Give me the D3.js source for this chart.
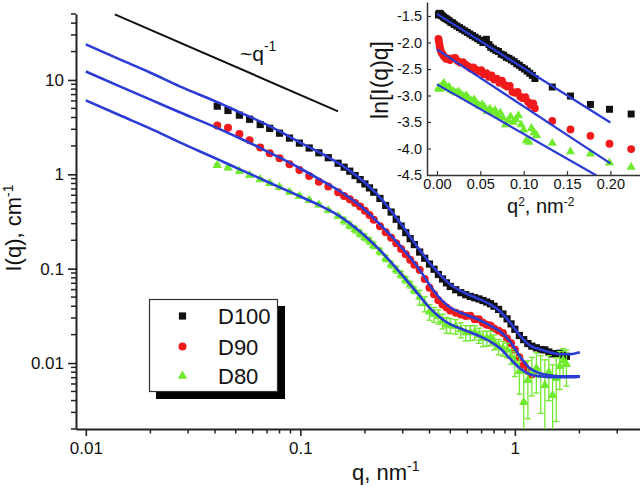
<!DOCTYPE html>
<html><head><meta charset="utf-8">
<script src="https://cdn.jsdelivr.net/npm/d3@7"></script>
<style>
body{margin:0;background:#fff;}
svg{display:block;font-family:"Liberation Sans",Arial,Helvetica,sans-serif;}
</style></head><body>
<svg id="c" width="640" height="490"></svg>
<script>
// ---------- main plot data ----------
const seriesNames = ["D100", "D90", "D80"];
const qMain = [0.041,0.046,0.052,0.058,0.065,0.072,0.080,0.089,0.099,0.110,0.122,0.135,0.150,
  0.16,0.17,0.18,0.19,0.20,0.21,0.22,0.235,0.25,0.265,0.28,0.295,0.31,0.325,0.34,
  0.36,0.38,0.40,0.42,0.44,0.46,0.48,0.50,0.53,0.56,0.59,0.62,0.65,0.68,0.71,0.74,0.77,0.80,
  0.84,0.88,0.92,0.96,1.00,1.05,1.10,1.15,1.20,1.26,1.32,1.38,1.44,1.50,1.56,1.62,1.68,1.74];
const iD100 = [5.28,4.75,4.24,3.83,3.37,3.07,2.73,2.42,2.14,1.90,1.69,1.50,1.31,
  1.19,1.08,0.971,0.879,0.791,0.718,0.646,0.555,0.468,0.398,0.334,0.283,0.241,0.208,0.180,
  0.150,0.129,0.112,0.0986,0.0868,0.0778,0.0707,0.0648,0.0598,0.0557,0.0530,0.0508,0.0492,0.0478,0.0460,0.0443,0.0425,0.0400,
  0.0370,0.0331,0.0294,0.0260,0.0228,0.0196,0.0177,0.0161,0.0151,0.0145,0.0139,0.0138,0.0131,0.0125,0.0126,0.0127,0.0121,0.0118];
const iD90 = [3.30,3.11,2.67,2.30,1.92,1.67,1.48,1.28,1.108,0.962,0.835,0.741,0.645,
  0.590,0.545,0.497,0.455,0.410,0.371,0.331,0.281,0.244,0.213,0.186,0.162,0.142,0.1245,0.110,
  0.0969,0.0776,0.0628,0.0537,0.0464,0.0418,0.0387,0.0361,0.0342,0.0326,0.0315,0.0318,0.0291,0.0292,0.0267,0.0254,0.0250,0.0233,
  0.0220,0.0208,0.0182,0.0162,0.0138,0.0115,0.0096,0.00823,0.00757,
  null,null,null,null,null,null,null,null,null];
const iD80 = [1.248,1.169,1.079,0.978,0.881,0.803,0.730,0.648,0.588,0.533,0.475,0.415,0.359,
  0.323,0.289,0.260,0.236,0.215,0.197,0.177,0.1525,0.1285,0.1105,0.0976,0.0864,0.0763,0.0677,0.0592,
  0.0501,0.0426,0.0350,0.0330,0.0312,0.0280,0.0255,0.0250,0.0245,0.0226,0.0210,0.0211,0.0212,0.0198,0.0183,0.0184,0.0185,0.0168,
  0.0150,0.0144,0.0138,0.0118,0.0102,0.00818,0.00384,0.00657,0.00799,0.00881,0.00743,0.00582,0.0080,0.00456,0.0069,0.00925,0.0107,0.00971];
const errD80 = [0.05,0.047,0.043,0.039,0.035,0.032,0.029,0.026,0.024,0.021,0.019,0.017,0.014,
  0.026,0.023,0.021,0.019,0.017,0.016,0.014,0.012,0.010,0.009,0.008,0.007,0.006,0.0054,0.0047,
  0.009,0.0077,0.0066,0.0059,0.0054,0.005,0.0048,0.0045,0.0043,0.0041,0.0039,0.0038,0.0037,0.0036,0.0034,0.0033,0.0032,0.003,
  0.0028,0.0026,0.0024,0.0021,0.003,0.0035,0.0040,0.0040,0.0035,0.004,0.0045,0.005,0.004,0.005,0.0045,0.004,0.0035,0.004];

// fitted curves (blue)
const qFit = [0.0100,0.0144,0.0199,0.0274,0.0413,0.0522,0.0648,0.0802,0.0995,0.123,0.153,0.189,0.235,0.291,0.361,
  0.402,0.447,0.498,0.554,0.617,0.687,0.765,0.851,0.948,1.055,1.175,1.308,1.456,1.621,1.805,2.01];
const fitD100 = [23.8,16.5,12.0,8.56,5.79,4.54,3.64,2.85,2.18,1.71,1.28,0.907,0.571,0.310,0.157,
  0.114,0.0872,0.0684,0.0590,0.0523,0.0474,0.0420,0.0354,0.0271,0.0197,0.0154,0.0140,0.0130,0.0124,0.0124,0.0130];
const fitD90 = [12.3,8.56,6.23,4.54,3.07,2.41,1.91,1.50,1.16,0.885,0.661,0.469,0.295,0.177,0.0962,
  0.0667,0.0486,0.0390,0.0345,0.0313,0.0284,0.0251,0.0217,0.0170,0.0118,0.00881,0.00780,0.00743,0.00725,0.00725,0.00725];
const fitD80 = [6.08,4.22,3.07,2.18,1.44,1.13,0.907,0.728,0.585,0.469,0.359,0.249,0.157,0.0916,0.0510,
  0.0381,0.0306,0.0258,0.0234,0.0212,0.0192,0.0170,0.0144,0.0112,0.00881,0.00761,0.00725,0.00707,0.00707,0.00707,0.00716];

// reference slope line ~q^-1
const refQ = [0.01365, 0.150];
const refI = [49.5, 4.65];

const xTicksMain = [0.01, 0.1, 1];
const xTickLabels = ["0.01", "0.1", "1"];
const yTicksMain = [0.01, 0.1, 1, 10];
const yTickLabels = ["0.01", "0.1", "1", "10"];

// ---------- inset data: [q^2, ln(I q)] ----------
const insD100 = [[0.0017,-1.48],[0.0025,-1.45],[0.0033,-1.47],[0.0042,-1.46],[0.0052,-1.49],[0.0062,-1.50],[0.0075,-1.52],
  [0.009,-1.54],[0.0105,-1.55],[0.012,-1.57],[0.014,-1.59],[0.016,-1.62],[0.018,-1.63],[0.020,-1.66],[0.023,-1.69],
  [0.026,-1.72],[0.029,-1.75],[0.032,-1.78],[0.035,-1.81],[0.038,-1.84],[0.041,-1.87],[0.044,-1.90],[0.047,-1.93],
  [0.050,-1.96],[0.053,-2.00],[0.057,-1.94],[0.060,-2.04],[0.062,-2.09],[0.065,-2.12],[0.068,-2.15],[0.071,-2.17],
  [0.074,-2.22],[0.077,-2.24],[0.080,-2.28],[0.083,-2.30],[0.086,-2.33],[0.089,-2.36],[0.092,-2.40],[0.095,-2.43],
  [0.098,-2.47],[0.101,-2.50],[0.104,-2.54],[0.107,-2.58],[0.110,-2.62],[0.113,-2.68],
  [0.133,-2.84],[0.154,-3.01],[0.177,-3.17],[0.199,-3.26],[0.224,-3.35]];
const insD90 = [[0.0017,-1.93],[0.0022,-1.97],[0.0027,-2.02],[0.0033,-2.08],[0.004,-2.13],[0.005,-2.18],[0.006,-2.21],
  [0.0075,-2.25],[0.009,-2.28],[0.011,-2.31],[0.013,-2.30],[0.015,-2.33],[0.018,-2.30],[0.021,-2.29],[0.024,-2.35],
  [0.027,-2.38],[0.030,-2.37],[0.033,-2.42],[0.036,-2.45],[0.039,-2.49],[0.042,-2.47],[0.045,-2.51],[0.048,-2.55],
  [0.051,-2.52],[0.054,-2.60],[0.057,-2.58],[0.060,-2.65],[0.063,-2.62],[0.066,-2.70],[0.069,-2.68],[0.072,-2.76],
  [0.075,-2.72],[0.078,-2.80],[0.081,-2.83],[0.084,-2.82],[0.087,-2.93],[0.090,-2.95],[0.093,-2.93],[0.096,-3.02],
  [0.099,-3.05],[0.102,-3.03],[0.105,-3.12],[0.108,-3.18],[0.111,-3.15],[0.113,-3.24],
  [0.133,-3.48],[0.154,-3.64],[0.177,-3.76],[0.199,-3.91],[0.224,-4.01]];
const insD80 = [[0.0017,-2.87],[0.0025,-2.85],[0.0035,-2.88],[0.005,-2.83],[0.0065,-2.80],[0.008,-2.77],[0.010,-2.82],
  [0.012,-2.86],[0.014,-2.84],[0.016,-2.90],[0.019,-2.92],[0.022,-2.95],[0.025,-2.93],[0.028,-2.98],[0.031,-3.02],
  [0.034,-3.00],[0.037,-3.07],[0.040,-3.10],[0.043,-3.08],[0.046,-3.15],[0.049,-3.20],[0.052,-3.17],[0.055,-3.22],
  [0.058,-3.30],[0.061,-3.25],[0.064,-3.32],[0.067,-3.28],[0.070,-3.38],[0.073,-3.33],[0.076,-3.42],[0.079,-3.55],
  [0.082,-3.47],[0.085,-3.40],[0.088,-3.50],[0.091,-3.45],[0.094,-3.38],[0.097,-3.55],[0.100,-3.65],[0.103,-3.85],
  [0.106,-3.88],[0.109,-3.62],[0.112,-3.70],[0.115,-3.75],
  [0.133,-3.90],[0.154,-4.06],[0.177,-4.10],[0.199,-4.27],[0.224,-4.35]];
const insFitD100 = [[0.0, -1.46], [0.20, -3.51]];
const insFitD90 = [[0.0, -2.13], [0.20, -4.28]];
const insFitD80 = [[0.0, -2.79], [0.184, -4.51]];
const insXTicks = [0.00, 0.05, 0.10, 0.15, 0.20];
const insXLabels = ["0.00", "0.05", "0.10", "0.15", "0.20"];
const insYTicks = [-1.5, -2.0, -2.5, -3.0, -3.5, -4.0, -4.5];
const insYLabels = ["-1.5", "-2.0", "-2.5", "-3.0", "-3.5", "-4.0", "-4.5"];

// ---------- styles ----------
const colors = {D100: "#111111", D90: "#f01a1a", D80: "#6fea2c"};
const blue = "#2a3cd4";

const svg = d3.select("#c");
const x = d3.scaleLog().domain([0.009, 4]).range([76, 644]);
const y = d3.scaleLog().domain([0.002, 50]).range([429, 14]);

const defs = svg.append("defs");
defs.append("clipPath").attr("id", "mclip").append("rect")
  .attr("x", 76).attr("y", 0).attr("width", 564).attr("height", 429);
defs.append("clipPath").attr("id", "iclip").append("rect")
  .attr("x", 427).attr("y", 0).attr("width", 213).attr("height", 175);

// ---------- main axes ----------
const gx = svg.append("g").attr("transform", "translate(0,429)")
  .call(d3.axisBottom(x).tickValues(xTicksMain).tickFormat((d, i) => xTickLabels[i])
    .tickSize(7).tickSizeOuter(0).tickPadding(6));
const gy = svg.append("g").attr("transform", "translate(76,0)")
  .call(d3.axisLeft(y).tickValues(yTicksMain).tickFormat((d, i) => yTickLabels[i])
    .tickSize(8).tickSizeOuter(0).tickPadding(4));
[gx, gy].forEach(g => {
  g.select(".domain").attr("stroke", "#222").attr("stroke-width", 2);
  g.selectAll(".tick line").attr("stroke", "#222").attr("stroke-width", 1.6);
  g.selectAll("text").attr("font-size", 17).attr("fill", "#111")
    .attr("font-family", "Liberation Sans, Arial, sans-serif");
});
const xMinor = x.ticks().filter(v => !xTicksMain.some(t => Math.abs(t - v) < 1e-9) && v >= 0.0095);
svg.append("g").selectAll("line").data(xMinor).join("line")
  .attr("x1", d => x(d)).attr("x2", d => x(d)).attr("y1", 429).attr("y2", 433.5)
  .attr("stroke", "#222").attr("stroke-width", 1.5);
const yMinor = y.ticks().filter(v => !yTicksMain.some(t => Math.abs(t - v) < 1e-12));
svg.append("g").selectAll("line").data(yMinor).join("line")
  .attr("y1", d => y(d)).attr("y2", d => y(d)).attr("x1", 76).attr("x2", 71)
  .attr("stroke", "#222").attr("stroke-width", 1.5);

// axis titles
const xt = svg.append("text").attr("x", 352).attr("y", 480).attr("font-size", 22).attr("fill", "#111");
xt.append("tspan").text("q, nm");
xt.append("tspan").text("-1").attr("font-size", 14).attr("dy", -9);
const yt = svg.append("text").attr("transform", "translate(21,228) rotate(-90)")
  .attr("text-anchor", "middle").attr("font-size", 22).attr("fill", "#111");
yt.append("tspan").text("I(q), cm");
yt.append("tspan").text("-1").attr("font-size", 14).attr("dy", -8);

// ---------- main data ----------
const plot = svg.append("g").attr("clip-path", "url(#mclip)");

// reference line
plot.append("line").attr("x1", x(refQ[0])).attr("y1", y(refI[0]))
  .attr("x2", x(refQ[1])).attr("y2", y(refI[1])).attr("stroke", "#111").attr("stroke-width", 2);

const ptsD100 = qMain.map((q, i) => ({q, v: iD100[i]})).filter(d => d.v != null);
const ptsD90 = qMain.map((q, i) => ({q, v: iD90[i]})).filter(d => d.v != null);
const ptsD80 = qMain.map((q, i) => ({q, v: iD80[i], e: errD80[i]})).filter(d => d.v != null);

plot.append("g").selectAll("rect").data(ptsD100).join("rect")
  .attr("x", d => x(d.q) - 3.6).attr("y", d => y(d.v) - 3.6).attr("width", 7.2).attr("height", 7.2)
  .attr("fill", colors.D100);
plot.append("g").selectAll("circle").data(ptsD90).join("circle")
  .attr("cx", d => x(d.q)).attr("cy", d => y(d.v)).attr("r", 4).attr("fill", colors.D90);

// D80 error bars
const eb = plot.append("g").attr("stroke", colors.D80).attr("stroke-width", 1.3);
ptsD80.forEach(d => {
  const yt0 = y(d.v + d.e);
  const lo = d.v - d.e;
  const yb0 = lo > 0 ? y(lo) : 440;
  const cx = x(d.q);
  eb.append("line").attr("x1", cx).attr("x2", cx).attr("y1", yt0).attr("y2", yb0);
  eb.append("line").attr("x1", cx - 3).attr("x2", cx + 3).attr("y1", yt0).attr("y2", yt0);
  eb.append("line").attr("x1", cx - 3).attr("x2", cx + 3).attr("y1", yb0).attr("y2", yb0);
});
const tri = d3.symbol().type(d3.symbolTriangle).size(38);
plot.append("g").selectAll("path").data(ptsD80).join("path")
  .attr("d", tri).attr("transform", d => `translate(${x(d.q)},${y(d.v)})`).attr("fill", colors.D80);

// fits
const fitLine = d3.line().x(d => x(d[0])).y(d => y(d[1])).curve(d3.curveMonotoneX);
[fitD100, fitD90, fitD80].forEach(arr => {
  plot.append("path").datum(qFit.map((q, i) => [q, arr[i]])).attr("d", fitLine)
    .attr("fill", "none").attr("stroke", blue).attr("stroke-width", 2.6);
});

// ~q^-1 label
const rt = svg.append("text").attr("x", 240).attr("y", 61).attr("font-size", 21).attr("fill", "#111");
rt.append("tspan").text("~q");
rt.append("tspan").text("-1").attr("font-size", 14).attr("dy", -10);

// ---------- legend ----------
const lg = svg.append("g");
lg.append("rect").attr("x", 156).attr("y", 306).attr("width", 129).attr("height", 93).attr("fill", "#000");
lg.append("rect").attr("x", 149.5).attr("y", 299.5).attr("width", 128).attr("height", 92)
  .attr("fill", "#fff").attr("stroke", "#333").attr("stroke-width", 1.2);
const legY = [316, 346.5, 376];
seriesNames.forEach((n, i) => {
  const cy = legY[i];
  if (i === 0) lg.append("rect").attr("x", 182.5 - 3.6).attr("y", cy - 3.6).attr("width", 7.2).attr("height", 7.2).attr("fill", colors[n]);
  if (i === 1) lg.append("circle").attr("cx", 182.5).attr("cy", cy).attr("r", 4).attr("fill", colors[n]);
  if (i === 2) lg.append("path").attr("d", tri).attr("transform", `translate(182.5,${cy})`).attr("fill", colors[n]);
  lg.append("text").attr("x", 218).attr("y", cy + 8).attr("font-size", 22).attr("fill", "#111").text(n);
});

// ---------- inset ----------
const xi = d3.scaleLinear().domain([-0.0115, 0.2365]).range([427, 642]);
const yi = d3.scaleLinear().domain([-4.5, -1.236]).range([175, 2]);
const gxi = svg.append("g").attr("transform", "translate(0,175)")
  .call(d3.axisBottom(xi).tickValues(insXTicks).tickFormat((d, i) => insXLabels[i])
    .tickSize(-4).tickSizeOuter(0).tickPadding(4));
const gyi = svg.append("g").attr("transform", "translate(427,0)")
  .call(d3.axisLeft(yi).tickValues(insYTicks).tickFormat((d, i) => insYLabels[i])
    .tickSize(-4).tickSizeOuter(0).tickPadding(5));
[gxi, gyi].forEach(g => {
  g.select(".domain").attr("stroke", "#333").attr("stroke-width", 1.5);
  g.selectAll(".tick line").attr("stroke", "#333").attr("stroke-width", 1.2);
  g.selectAll("text").attr("font-size", 14.5).attr("fill", "#111")
    .attr("font-family", "Liberation Sans, Arial, sans-serif");
});
const xit = svg.append("text").attr("x", 507).attr("y", 213).attr("font-size", 20).attr("fill", "#111");
xit.append("tspan").text("q");
xit.append("tspan").text("2").attr("font-size", 12).attr("dy", -7);
xit.append("tspan").text(", nm").attr("dy", 7);
xit.append("tspan").text("-2").attr("font-size", 12).attr("dy", -7);
svg.append("text").attr("transform", "translate(388,80) rotate(-90)").attr("text-anchor", "middle")
  .attr("font-size", 23).attr("fill", "#111").text("ln[I(q)q]");

const inset = svg.append("g").attr("clip-path", "url(#iclip)");
inset.append("g").selectAll("rect").data(insD100).join("rect")
  .attr("x", d => xi(d[0]) - 3.5).attr("y", d => yi(d[1]) - 3.5).attr("width", 7).attr("height", 7)
  .attr("fill", colors.D100);
inset.append("g").selectAll("circle").data(insD90).join("circle")
  .attr("cx", d => xi(d[0])).attr("cy", d => yi(d[1])).attr("r", 3.9).attr("fill", colors.D90);
const triS = d3.symbol().type(d3.symbolTriangle).size(36);
inset.append("g").selectAll("path").data(insD80).join("path")
  .attr("d", triS).attr("transform", d => `translate(${xi(d[0])},${yi(d[1])})`).attr("fill", colors.D80);
const iLine = d3.line().x(d => xi(d[0])).y(d => yi(d[1]));
[insFitD100, insFitD90, insFitD80].forEach(a => {
  inset.append("path").datum(a).attr("d", iLine).attr("fill", "none").attr("stroke", blue).attr("stroke-width", 2.2);
});
</script>
</body></html>
